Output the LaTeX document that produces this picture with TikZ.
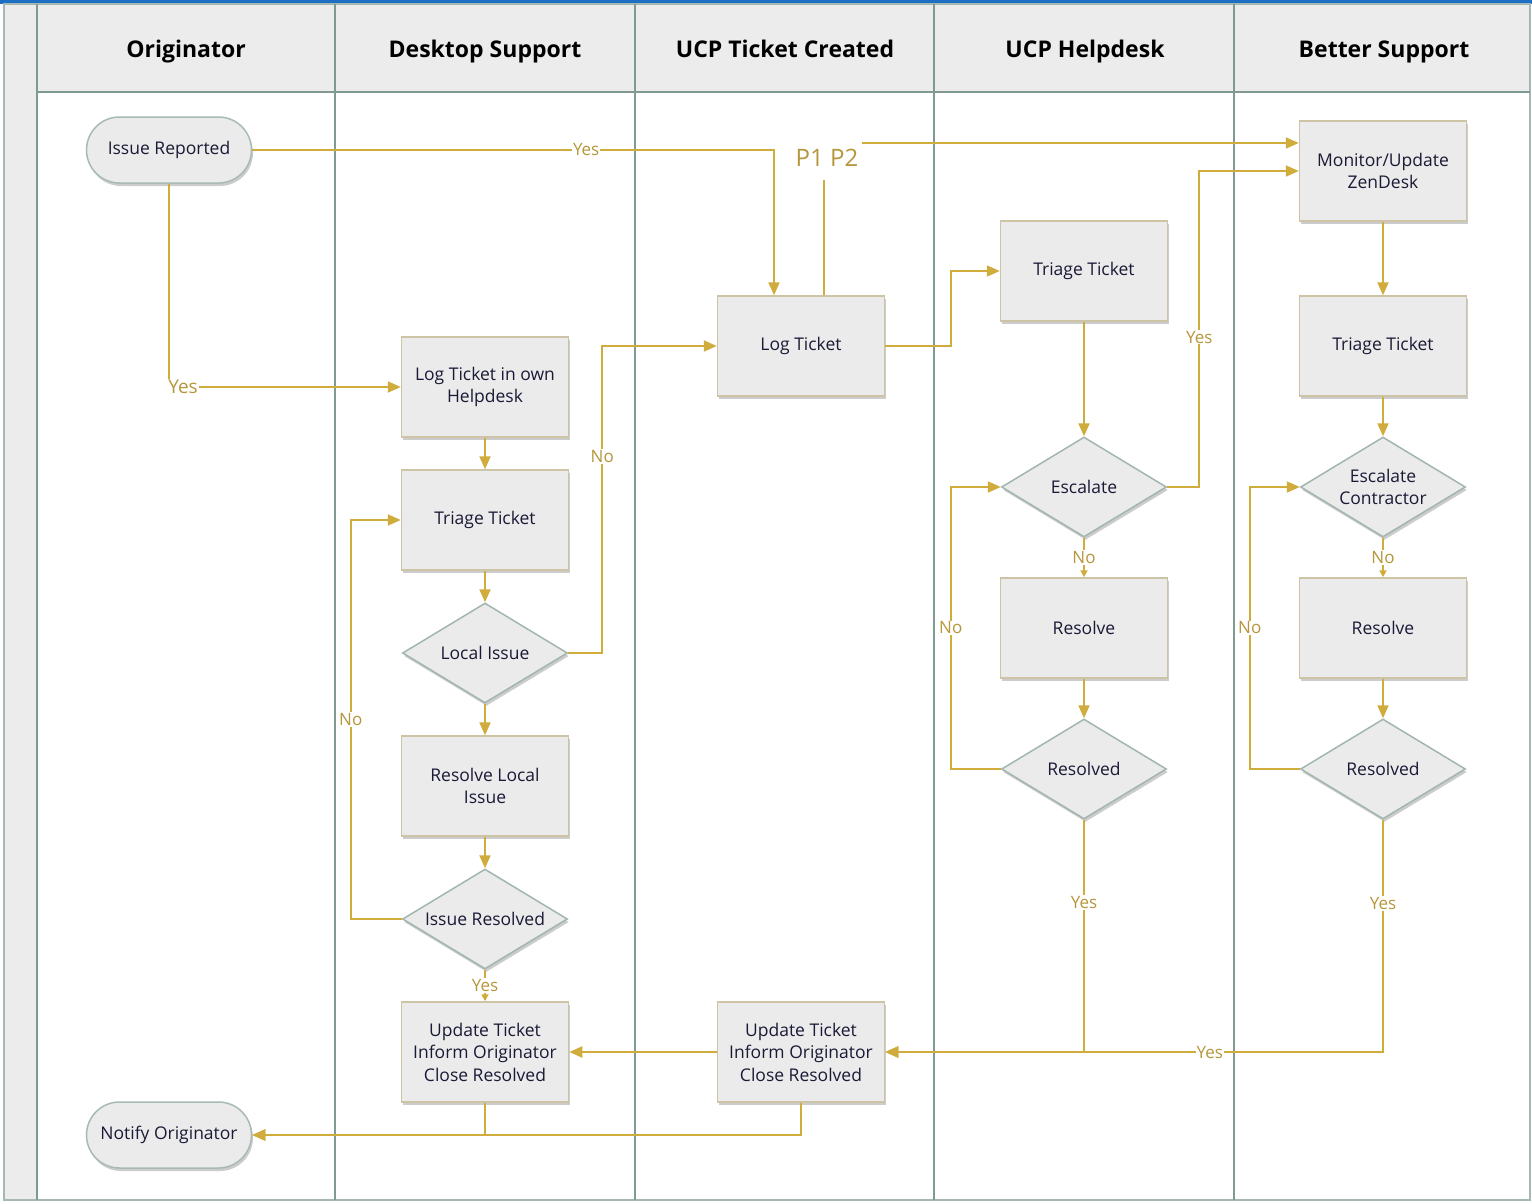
\documentclass[tikz,border=0pt]{standalone}
\usepackage{fontspec}
\setmainfont{Open Sans}
\usetikzlibrary{shapes.geometric,arrows.meta,shadows,calc}
\definecolor{gold}{HTML}{CFAC3C}
\definecolor{lblgold}{HTML}{B6963A}
\definecolor{nodefill}{HTML}{EBEBEB}
\definecolor{boxedge}{HTML}{CCC4A4}
\definecolor{decedge}{HTML}{A2B6AF}
\definecolor{termedge}{HTML}{A8BAB4}
\definecolor{nodetext}{HTML}{1A1A36}
\definecolor{lanecol}{HTML}{7F9A93}
\definecolor{hdrfill}{HTML}{ECECEC}
\definecolor{topblue}{HTML}{1C6FC2}
\newcommand\ndfont{\fontsize{17.5}{22.5}\selectfont}
\newcommand\hdfont{\fontsize{23}{27}\selectfont\bfseries}
\newcommand\lbfont{\fontsize{17}{20}\selectfont}
\tikzset{
  shad/.style={drop shadow={shadow xshift=1.5pt,shadow yshift=-3pt,opacity=0.2,fill=black}},
  box/.style={rectangle, draw=boxedge, line width=1.5pt, fill=nodefill, minimum width=167pt, minimum height=100pt, align=center, font=\ndfont, text=nodetext, inner sep=2pt, shad},
  dec/.style={diamond, aspect=1.65, inner sep=0pt, draw=decedge, line width=1.5pt, fill=nodefill, minimum width=165pt, minimum height=100pt, align=center, font=\ndfont, text=nodetext, shad},
  term/.style={rectangle, rounded corners=33pt, draw=termedge, line width=1.5pt, fill=nodefill, minimum width=165pt, minimum height=66pt, align=center, font=\ndfont, text=nodetext, shad},
  conn/.style={draw=gold, line width=2pt, -{Triangle[length=13pt,width=11pt]}},
  sconn/.style={draw=gold, line width=2pt, -{Triangle[length=7pt,width=7pt]}},
  lbl/.style={fill=white, text=lblgold, font=\lbfont, inner sep=1pt},
  lane/.style={draw=lanecol, line width=2.5pt},
  hdr/.style={font=\hdfont, text=black, anchor=base}
}
\begin{document}
\begin{tikzpicture}[x=1pt,y=-1pt]
\useasboundingbox (0,0) rectangle (1532,1203);
\fill[white] (0,0) rectangle (1532,1203);
% swimlane frame
\fill[hdrfill] (4,4) rectangle (1530,92);
\fill[hdrfill] (4,92) rectangle (37,1200);
\fill[topblue] (0,0) rectangle (1532,4);
\draw[draw=lanecol!70, line width=1.5pt] (4,4) rectangle (1530,1200);
\draw[lane] (37,92) -- (1530,92);
\foreach \x in {37,335,635,934,1234} {\draw[lane] (\x,4) -- (\x,1200);}
\node[hdr] (h1) at (186,57) {Originator};
\node[hdr] (h2) at (485,57) {Desktop Support};
\node[hdr] (h3) at (785,57) {UCP Ticket Created};
\node[hdr] (h4) at (1085,57) {UCP Helpdesk};
\node[hdr] (h5) at (1384,57) {Better Support};

% Originator lane
\node[term] (ir) at (169,150) {Issue Reported};
\node[term] (no) at (169,1135) {Notify Originator};
% Desktop Support lane
\node[box] (lo) at (485,387) {Log Ticket in own\\Helpdesk};
\node[box] (tt1) at (485,520) {Triage Ticket};
\node[dec] (li) at (485,653) {Local Issue};
\node[box] (rl) at (485,786) {Resolve Local\\Issue};
\node[dec] (isr) at (485,919) {Issue Resolved};
\node[box] (ut1) at (485,1052) {Update Ticket\\Inform Originator\\Close Resolved};
% UCP Ticket Created lane
\node[box] (lt) at (801,346) {Log Ticket};
\node[box] (ut2) at (801,1052) {Update Ticket\\Inform Originator\\Close Resolved};
% UCP Helpdesk lane
\node[box] (th) at (1084,271) {Triage Ticket};
\node[dec] (esc) at (1084,487) {Escalate};
\node[box] (rh) at (1084,628) {Resolve};
\node[dec] (rsh) at (1084,769) {Resolved};
% Better Support lane
\node[box] (mz) at (1383,171) {Monitor/Update\\ZenDesk};
\node[box] (tb) at (1383,346) {Triage Ticket};
\node[dec] (ecb) at (1383,487) {Escalate\\Contractor};
\node[box] (rb) at (1383,628) {Resolve};
\node[dec] (rsb) at (1383,769) {Resolved};

% connectors
\draw[conn] (ir.east) -| node[lbl,pos=0.32]{Yes} ($(lt.north)+(-27,0)$);
\draw[conn] (ir.south) |- node[lbl,xshift=14pt,font=\fontsize{19}{22}\selectfont]{Yes} (lo.west);
\draw[conn] (lo) -- (tt1);
\draw[conn] (tt1) -- (li);
\draw[conn] (li.east) -- ++(34,0) |- node[lbl,pos=0.32]{No} (lt.west);
\draw[conn] (li) -- (rl);
\draw[conn] (rl) -- (isr);
\draw[conn] (isr.west) -- ++(-51,0) |- node[lbl,pos=0.25]{No} (tt1.west);
\draw[sconn] (isr.south) -- node[lbl]{Yes} (ut1.north);
\draw[conn] ($(lt.north)+(23,0)$) |- node[fill=white, text=lblgold, font=\fontsize{24}{28}\selectfont, minimum width=70pt, minimum height=44pt, inner sep=0pt, xshift=3pt, yshift=-15pt]{P1 P2} ($(mz.west)+(0,-28)$);
\draw[conn] (lt.east) -- ++(66,0) |- (th.west);
\draw[conn] (th) -- (esc);
\draw[conn] (esc.east) -- ++(32,0) |- node[lbl,pos=0.237]{Yes} ($(mz.west)$);
\draw[sconn] (esc.south) -- node[lbl]{No} (rh.north);
\draw[conn] (rh) -- (rsh);
\draw[conn] (rsh.west) -- ++(-50,0) |- node[lbl,pos=0.25]{No} (esc.west);
\draw[conn] (rsh.south) |- node[lbl,pos=0.178]{Yes} (ut2.east);
\draw[conn] (mz) -- (tb);
\draw[conn] (tb) -- (ecb);
\draw[sconn] (ecb.south) -- node[lbl]{No} (rb.north);
\draw[conn] (rb) -- (rsb);
\draw[conn] (rsb.west) -- ++(-50,0) |- node[lbl,pos=0.25]{No} (ecb.west);
\draw[conn] (rsb.south) |- node[lbl,pos=0.18]{Yes} node[lbl,pos=0.674]{Yes} (ut2.east);
\draw[conn] (ut2.west) -- (ut1.east);
\draw[conn] (ut1.south) |- (no.east);
\draw[conn] (ut2.south) |- (no.east);
\end{tikzpicture}
\end{document}
